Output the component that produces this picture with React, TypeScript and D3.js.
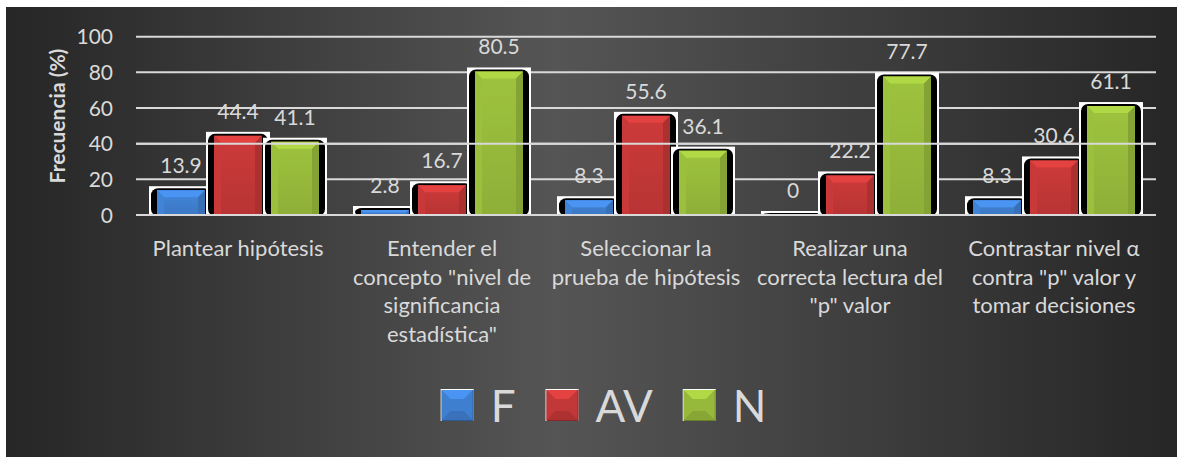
import React, { useMemo } from 'react';
import { scaleBand, scaleLinear, color } from 'd3';

const categories = [
  ['Plantear hipótesis'],
  ['Entender el', 'concepto "nivel de', 'significancia', 'estadística"'],
  ['Seleccionar la', 'prueba de hipótesis'],
  ['Realizar una', 'correcta lectura del', '"p" valor'],
  ['Contrastar nivel α', 'contra "p" valor y', 'tomar decisiones'],
];
const seriesNames = ['F', 'AV', 'N'];
const valuesF = [13.9, 2.8, 8.3, 0, 8.3];
const valuesAV = [44.4, 16.7, 55.6, 22.2, 30.6];
const valuesN = [41.1, 80.5, 36.1, 77.7, 61.1];
const yTicks = [0, 20, 40, 60, 80, 100];

const seriesValues = [valuesF, valuesAV, valuesN];
const seriesColors = ['#3f7fcf', '#c23737', '#96b93b'];

const W = 1177;
const H = 457;
const TEXT = '#d9d9d9';
const FONT = 'Lato, "Open Sans", sans-serif';

function shade(c: string, k: number) {
  const col = color(c)!;
  return (k > 0 ? col.brighter(k) : col.darker(-k)).formatHex();
}

function Bar({ x, w, top, base, fill, gid }: { x: number; w: number; top: number; base: number; fill: string; gid: string }) {
  const boxL = x;
  const boxR = x + w;
  const boxT = top - 4;
  const cL = boxL + 8;
  const cR = boxR - 8;
  const h = base - top;
  const b = Math.max(0, Math.min(7, h / 2, (cR - cL) / 2));
  return (
    <g>
      <rect x={boxL} y={boxT} width={w} height={base - boxT + 1} fill="#ffffff" />
      <rect x={boxL + 2} y={boxT + 2} width={w - 4} height={Math.max(0, base - boxT - 1)} rx={7} fill="#000000" />
      {h > 0.5 ? (
        <g>
          <rect x={cL} y={top} width={cR - cL} height={h} fill={`url(#${gid})`} />
          <polygon
            points={`${cL},${top} ${cR},${top} ${cR - b},${top + b} ${cL + b},${top + b}`}
            fill={shade(fill, 0.45)}
          />
          <polygon
            points={`${cL},${top} ${cL + b},${top + b} ${cL + b},${base} ${cL},${base}`}
            fill={shade(fill, 0.1)}
          />
          <polygon
            points={`${cR},${top} ${cR - b},${top + b} ${cR - b},${base} ${cR},${base}`}
            fill={shade(fill, -0.35)}
          />
        </g>
      ) : null}
    </g>
  );
}

export default function App() {
  const x = useMemo(
    () => scaleBand<number>().domain(categories.map((_, i) => i)).range([136, 1156]).padding(0),
    [],
  );
  const y = useMemo(() => scaleLinear().domain([0, 100]).range([215, 36.7]), []);

  const step = 57;
  const boxW = 64;

  const legend = useMemo(() => {
    const cv = document.createElement('canvas').getContext('2d')!;
    cv.font = `44px ${FONT}`;
    const sq = 32;
    const items = seriesNames.map((n) => ({ n, tw: cv.measureText(n).width }));
    const total = items.reduce((s, it) => s + sq + 17 + it.tw, 0) + 31 * (items.length - 1);
    let cur = 604 - total / 2;
    return items.map((it, i) => {
      const pos = { ...it, x: cur, i };
      cur += sq + 17 + it.tw + 31;
      return pos;
    });
  }, []);

  // the 0 and 40 gridlines run over the bars in the original
  const overlayTicks = [0, 40];

  return (
    <div style={{ position: 'absolute', left: 0, top: 0 }}>
      <svg width={W} height={H} style={{ display: 'block' }} fontFamily={FONT}>
        <defs>
          <linearGradient id="bg" x1="0" x2="1" y1="0" y2="0">
            <stop offset="0" stopColor="#262626" />
            <stop offset="0.47" stopColor="#555555" />
            <stop offset="1" stopColor="#262626" />
          </linearGradient>
          {seriesColors.map((c, i) => (
            <linearGradient key={i} id={`bar${i}`} x1="0" x2="0" y1="0" y2="1">
              <stop offset="0" stopColor={shade(c, 0.15)} />
              <stop offset="1" stopColor={shade(c, -0.15)} />
            </linearGradient>
          ))}
        </defs>
        <rect x={0} y={0} width={W} height={H} fill="#ffffff" />
        <rect x={6} y={7} width={W - 6} height={H - 7} fill="url(#bg)" />

        {yTicks.map((t) => (
          <line key={`g${t}`} x1={136} x2={1156} y1={y(t)} y2={y(t)} stroke={TEXT} strokeWidth={2} />
        ))}
        {yTicks.map((t) => (
          <text key={`t${t}`} x={113} y={y(t)} dy="0.36em" textAnchor="end" fontSize={21} fill={TEXT}>
            {t}
          </text>
        ))}
        <text
          transform="translate(58,116) rotate(-90)"
          textAnchor="middle"
          dy="0.35em"
          fontSize={21}
          fontWeight="bold"
          fill={TEXT}
        >
          Frecuencia (%)
        </text>

        {categories.map((_, ci) => {
          const cx = (x(ci) ?? 0) + x.bandwidth() / 2;
          return (
            <g key={`c${ci}`}>
              {seriesValues.map((vals, si) => {
                const bx = cx + (si - 1) * step - boxW / 2;
                return (
                  <Bar
                    key={si}
                    x={bx}
                    w={boxW}
                    top={y(vals[ci])}
                    base={y(0)}
                    fill={seriesColors[si]}
                    gid={`bar${si}`}
                  />
                );
              })}
            </g>
          );
        })}

        {overlayTicks.map((t) => (
          <line key={`o${t}`} x1={136} x2={1156} y1={y(t)} y2={y(t)} stroke={TEXT} strokeWidth={2} />
        ))}

        {categories.map((_, ci) => {
          const cx = (x(ci) ?? 0) + x.bandwidth() / 2;
          return seriesValues.map((vals, si) => (
            <text
              key={`v${ci}-${si}`}
              x={cx + (si - 1) * step}
              y={y(vals[ci]) - 17}
              textAnchor="middle"
              fontSize={21}
              fill={TEXT}
            >
              {vals[ci]}
            </text>
          ));
        })}

        {categories.map((lines, ci) => {
          const cx = (x(ci) ?? 0) + x.bandwidth() / 2;
          return (
            <text key={`l${ci}`} textAnchor="middle" fontSize={22} fill={TEXT}>
              {lines.map((ln, li) => (
                <tspan key={li} x={cx} y={256 + li * 28.5}>
                  {ln}
                </tspan>
              ))}
            </text>
          );
        })}

        {legend.map((it) => {
          const c = seriesColors[it.i];
          const sx = it.x;
          const sy = 390;
          const s = 32;
          const b = 9;
          return (
            <g key={it.n}>
              <rect x={sx - 1} y={sy - 1} width={s + 1} height={s} fill="#ffffff" />
              <rect x={sx} y={sy} width={s} height={s - 1} fill={shade(c, -1)} />
              <rect x={sx} y={sy} width={s - 1} height={s - 2} fill={c} />
              <polygon points={`${sx},${sy} ${sx + s - 1},${sy} ${sx + s - 1 - b},${sy + b} ${sx + b},${sy + b}`} fill={shade(c, 0.45)} />
              <polygon points={`${sx},${sy + s - 2} ${sx + s - 1},${sy + s - 2} ${sx + s - 1 - b},${sy + s - 2 - b} ${sx + b},${sy + s - 2 - b}`} fill={shade(c, -0.3)} />
              <text x={sx + s + 17} y={sy + 32} fontSize={44} fill={TEXT}>
                {it.n}
              </text>
            </g>
          );
        })}
      </svg>
    </div>
  );
}
